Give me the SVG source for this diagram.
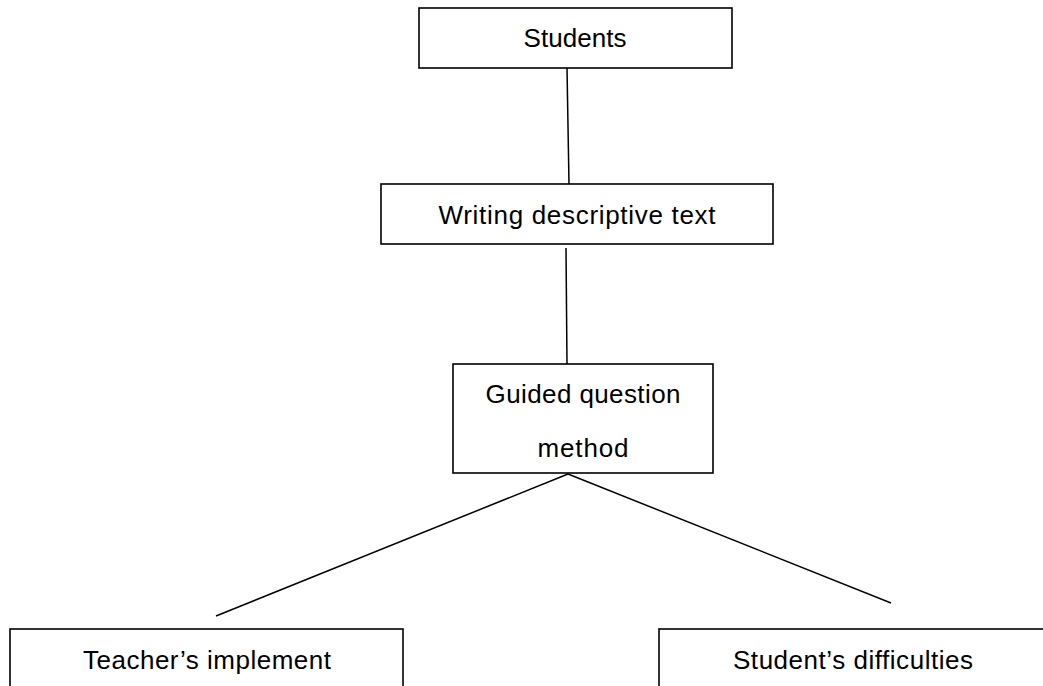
<svg xmlns="http://www.w3.org/2000/svg" width="1043" height="686" viewBox="0 0 1043 686">
<style>
.box{fill:#fff;stroke:#000;stroke-width:1.6}
.lbl{font-family:"Liberation Sans",Arial,sans-serif;font-size:26px;fill:#000;text-anchor:middle}
.conn{stroke:#000;stroke-width:1.5;fill:none}
</style>
<rect width="1043" height="686" fill="#fff"/>
<g id="connectors">
<line class="conn" x1="567" y1="68" x2="569" y2="184"/>
<line class="conn" x1="566" y1="248" x2="567" y2="364"/>
<line class="conn" x1="568" y1="474" x2="216" y2="616"/>
<line class="conn" x1="568" y1="474" x2="891" y2="603"/>
</g>
<g id="node-students">
<rect class="box" x="419" y="8" width="313" height="60"/>
<text class="lbl" x="575" y="47" textLength="103">Students</text>
</g>
<g id="node-writing">
<rect class="box" x="381" y="184" width="392" height="60"/>
<text class="lbl" x="577" y="224" textLength="277">Writing descriptive text</text>
</g>
<g id="node-guided">
<rect class="box" x="453" y="364" width="260" height="109"/>
<text class="lbl" x="583" y="403" textLength="195">Guided question</text>
<text class="lbl" x="583" y="457" textLength="91">method</text>
</g>
<g id="node-teacher">
<rect class="box" x="10" y="629" width="393" height="80"/>
<text class="lbl" x="207" y="669" textLength="248">Teacher’s implement</text>
</g>
<g id="node-student-difficulties">
<rect class="box" x="659" y="629" width="400" height="80"/>
<text class="lbl" x="853" y="669" textLength="240">Student’s difficulties</text>
</g>
</svg>
